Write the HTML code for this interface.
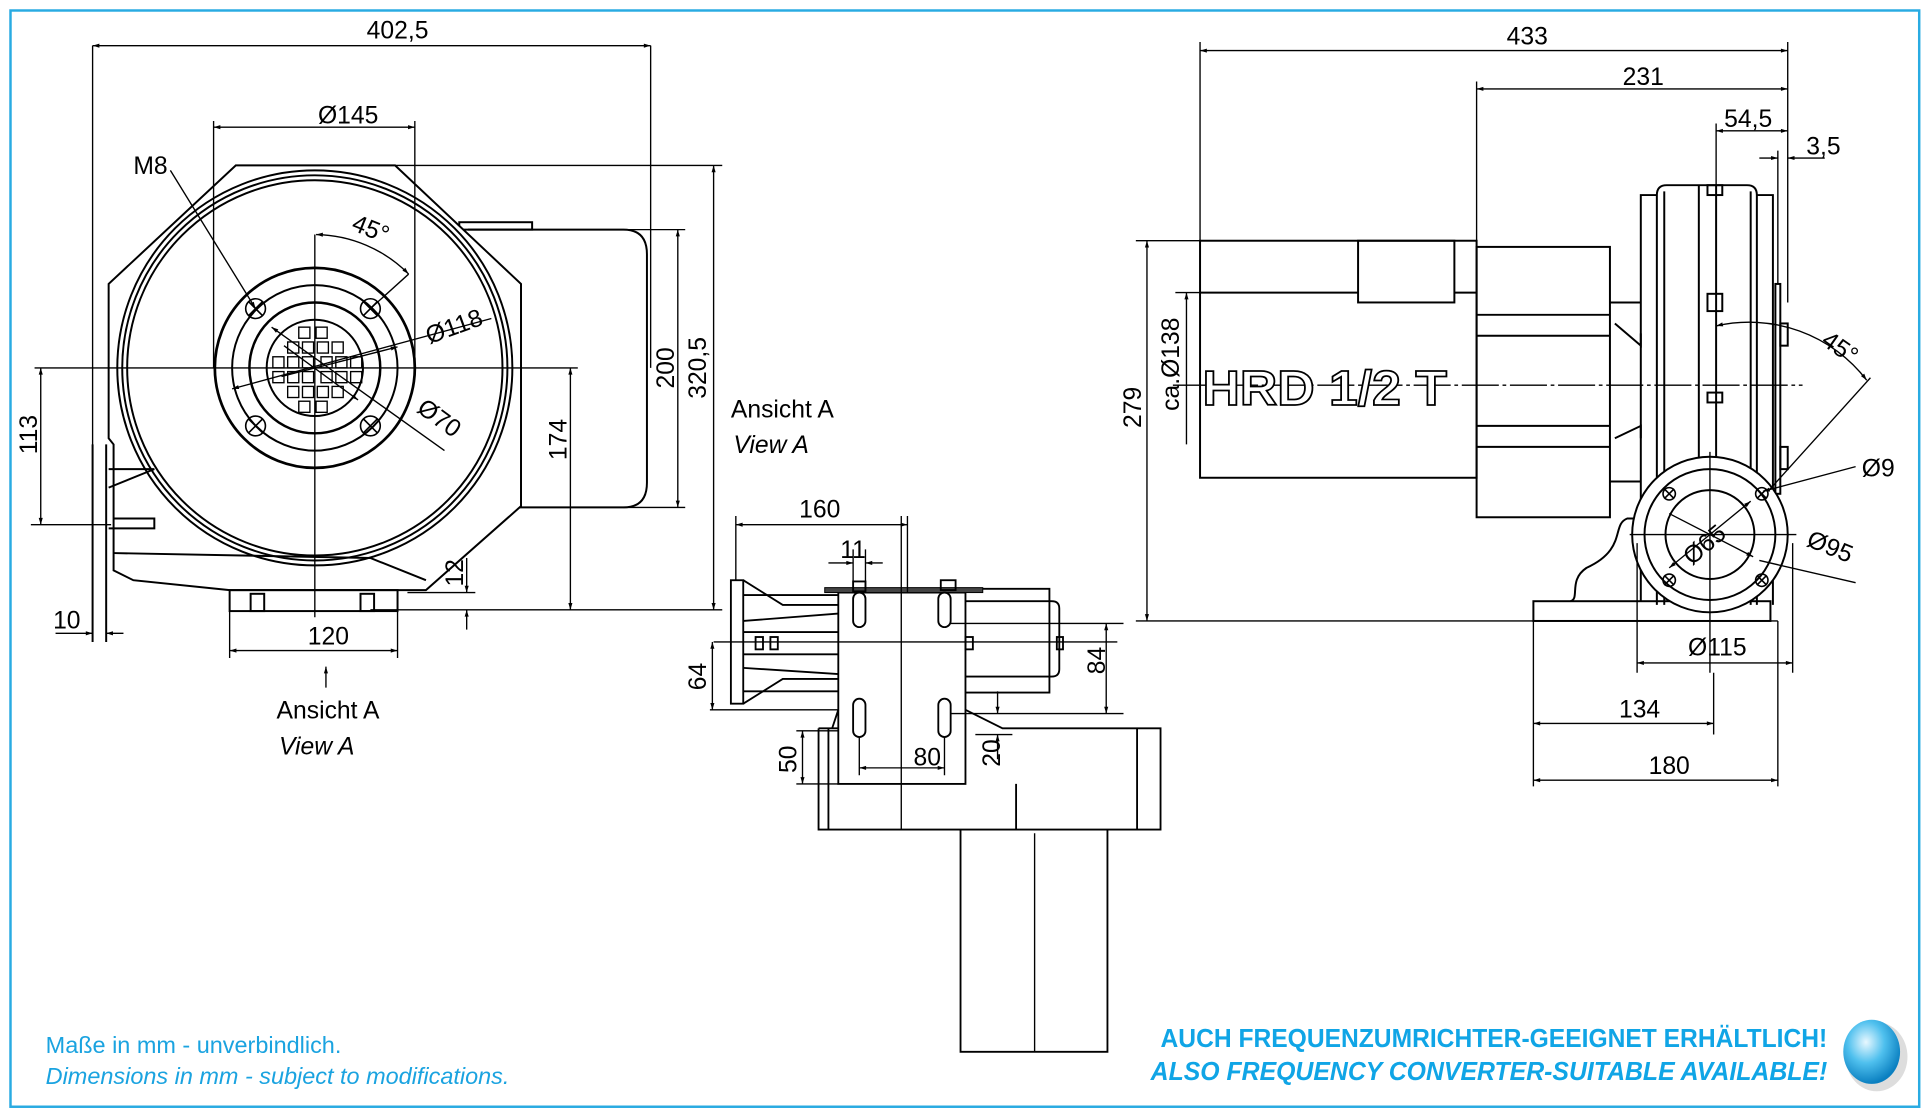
<!DOCTYPE html>
<html><head><meta charset="utf-8"><style>
html,body{margin:0;padding:0;background:#fff}
svg{display:block}
text{font-family:"Liberation Sans",Arial,sans-serif;fill:#000}
</style></head><body>
<svg width="1926" height="1116" viewBox="0 0 1560 904" preserveAspectRatio="none" xmlns="http://www.w3.org/2000/svg">
<defs>
<marker id="a" viewBox="0 0 10 10" refX="10" refY="5" markerWidth="7" markerHeight="5" orient="auto-start-reverse"><path d="M0,2 L10,5 L0,8z" fill="#000"/></marker>
<radialGradient id="g" cx="40%" cy="35%" r="65%"><stop offset="0" stop-color="#e8f8ff"/><stop offset="0.5" stop-color="#4fc0ee"/><stop offset="1" stop-color="#0a7fc0"/></radialGradient>
</defs>
<rect x="8.5" y="8.5" width="1546" height="888" fill="none" stroke="#29abe2" stroke-width="2"/>
<g fill="none" stroke="#000" stroke-width="1.6">
<!-- LEFT VIEW -->
<path d="M379,186 L505,186 Q524,186 524,206 L524,391 Q524,411 505,411 L379,411" fill="#fff"/>
<rect x="372" y="180" width="59" height="6"/>
<path d="M191,134 L320,134 L422,230 L422,410 L345,478 L186,478 L108,470 L92,462 L92,360 L88,355 L88,230 Z" fill="#fff"/>
<circle cx="255" cy="298" r="160"/>
<circle cx="255" cy="298" r="156"/>
<circle cx="255" cy="298" r="152"/>
<circle cx="255" cy="298" r="81" stroke-width="2.2"/>
<circle cx="255" cy="298" r="67"/>
<circle cx="255" cy="298" r="53" stroke-width="2"/>
<circle cx="255" cy="298" r="39"/>
<g stroke-width="1.3">
<circle cx="207" cy="250" r="8"/><path d="M201,244l12,12M213,244l-12,12"/>
<circle cx="300" cy="250" r="8"/><path d="M294,244l12,12M306,244l-12,12"/>
<circle cx="207" cy="345" r="8"/><path d="M201,339l12,12M213,339l-12,12"/>
<circle cx="300" cy="345" r="8"/><path d="M294,339l12,12M306,339l-12,12"/>
</g>
<g stroke-width="1.1">
<rect x="242" y="265" width="9" height="9"/><rect x="256" y="265" width="9" height="9"/>
<rect x="233" y="277" width="9" height="9"/><rect x="245" y="277" width="9" height="9"/><rect x="257" y="277" width="9" height="9"/><rect x="269" y="277" width="9" height="9"/>
<rect x="221" y="289" width="9" height="9"/><rect x="233" y="289" width="9" height="9"/><rect x="245" y="289" width="9" height="9"/><rect x="260" y="289" width="9" height="9"/><rect x="272" y="289" width="9" height="9"/><rect x="284" y="289" width="9" height="9"/>
<rect x="221" y="301" width="9" height="9"/><rect x="233" y="301" width="9" height="9"/><rect x="245" y="301" width="9" height="9"/><rect x="260" y="301" width="9" height="9"/><rect x="272" y="301" width="9" height="9"/><rect x="284" y="301" width="9" height="9"/>
<rect x="233" y="313" width="9" height="9"/><rect x="245" y="313" width="9" height="9"/><rect x="257" y="313" width="9" height="9"/><rect x="269" y="313" width="9" height="9"/>
<rect x="242" y="325" width="9" height="9"/><rect x="256" y="325" width="9" height="9"/>
</g>
<path d="M92,420 L125,420 L125,428 L88,428"/>
<path d="M88,380 L125,380 L88,395 M92,448 L300,452 L345,470"/>
<rect x="186" y="478" width="136" height="17"/>
<rect x="203" y="481" width="11" height="14"/><rect x="292" y="481" width="11" height="14"/>
<path d="M75,360 L75,520 M86,360 L86,520"/>
</g>
<g stroke="#000" stroke-width="1.1" fill="none">
<path d="M255,190 L255,500 M28,298 L468,298"/>
<path d="M75,37 L75,515 M527,37 L527,298"/>
<path d="M75,37 L527,37" marker-start="url(#a)" marker-end="url(#a)"/>
<path d="M173,98 L173,298 M336,98 L336,298"/>
<path d="M173,103 L336,103" marker-start="url(#a)" marker-end="url(#a)"/>
<path d="M320,134 L585,134 M505,186 L555,186 M505,411 L555,411 M300,494 L585,494"/>
<path d="M578,134 L578,494" marker-start="url(#a)" marker-end="url(#a)"/>
<path d="M549,186 L549,411" marker-start="url(#a)" marker-end="url(#a)"/>
<path d="M462,298 L462,494" marker-start="url(#a)" marker-end="url(#a)"/>
<path d="M25,425 L90,425"/>
<path d="M33,298 L33,425" marker-start="url(#a)" marker-end="url(#a)"/>
<path d="M330,480 L385,480"/>
<path d="M378,452 L378,480" marker-end="url(#a)"/><path d="M378,510 L378,494" marker-end="url(#a)"/>
<path d="M186,495 L186,533 M322,495 L322,533"/>
<path d="M186,527 L322,527" marker-start="url(#a)" marker-end="url(#a)"/>
<path d="M45,513 L75,513" marker-end="url(#a)"/><path d="M100,513 L86,513" marker-end="url(#a)"/>
<path d="M138,138 L207,250" marker-end="url(#a)"/>
<path d="M256,190 A108,108 0 0 1 331,222" marker-start="url(#a)" marker-end="url(#a)"/>
<path d="M331,222 L300,250"/>
<path d="M398,258 L188,315" marker-end="url(#a)"/><path d="M228,305 L322,281" marker-end="url(#a)"/>
<path d="M360,365 L220,265" marker-end="url(#a)"/><path d="M230,280 L290,324" marker-end="url(#a)"/>
<path d="M264,557 L264,540" marker-end="url(#a)"/>
</g>
<g font-size="20">
<text x="322" y="31" text-anchor="middle">402,5</text>
<text x="282" y="100" text-anchor="middle">Ø145</text>
<text x="108" y="141">M8</text>
<text x="285" y="192" transform="rotate(22 300 186)">45°</text>
<text x="342" y="270" transform="rotate(-20 370 258)">Ø118</text>
<text x="333" y="346" transform="rotate(36 355 345)">Ø70</text>
<text transform="translate(546,298) rotate(-90)" text-anchor="middle">200</text>
<text transform="translate(572,298) rotate(-90)" text-anchor="middle">320,5</text>
<text transform="translate(459,356) rotate(-90)" text-anchor="middle">174</text>
<text transform="translate(30,352) rotate(-90)" text-anchor="middle">113</text>
<text transform="translate(375,464) rotate(-90)" text-anchor="middle">12</text>
<text x="43" y="509">10</text>
<text x="266" y="522" text-anchor="middle">120</text>
<text x="224" y="582">Ansicht A</text>
<text x="226" y="611" font-style="italic">View A</text>
<text x="592" y="338">Ansicht A</text>
<text x="594" y="367" font-style="italic">View A</text>
</g>
<!-- MIDDLE VIEW -->
<g fill="none" stroke="#000" stroke-width="1.5">
<rect x="592" y="470" width="10" height="100"/>
<path d="M602,470 L634,490 L679,490 M602,570 L634,550 L679,550"/>
<path d="M602,482 L679,482 M602,560 L679,560 M602,503 L679,497 M602,541 L679,546 M602,512 L679,512 M602,530 L679,530"/>
<path d="M782,477 L850,477 L850,561 L782,561"/>
<path d="M782,487 L852,487 Q858,487 858,493 L858,542 Q858,548 852,548 L782,548"/>
<rect x="679" y="480" width="103" height="155" fill="#fff"/>
<rect x="668" y="476" width="128" height="4" fill="#444" stroke-width="0.8"/>
<rect x="691" y="471" width="10" height="8"/><rect x="762" y="470" width="12" height="8"/>
<rect x="691" y="480" width="10" height="28" rx="5"/><rect x="760" y="480" width="10" height="28" rx="5"/>
<rect x="691" y="566" width="10" height="31" rx="5"/><rect x="760" y="566" width="10" height="31" rx="5"/>
<rect x="612" y="516" width="6" height="10"/><rect x="624" y="516" width="6" height="10"/>
<rect x="782" y="516" width="6" height="10"/><rect x="856" y="516" width="5" height="10"/>
<path d="M663,590 L663,672 L940,672 L940,590 L812,590 L782,575 M663,590 L679,590 M671,590 L671,672 M921,590 L921,672 M823,635 L823,672 M674,590 L679,575"/>
<path d="M778,672 L778,852 L897,852 L897,672"/>
</g>
<g stroke="#000" stroke-width="1.1" fill="none">
<path d="M730,418 L730,672 M838,675 L838,852 M578,520 L905,520"/>
<path d="M596,418 L596,470 M735,418 L735,480"/>
<path d="M596,425 L735,425" marker-start="url(#a)" marker-end="url(#a)"/>
<path d="M671,456 L691,456" marker-end="url(#a)"/><path d="M715,456 L701,456" marker-end="url(#a)"/>
<path d="M691,445 L691,480 M701,445 L701,480"/>
<path d="M575,575 L679,575 M770,505 L910,505 M770,578 L910,578"/>
<path d="M577,520 L577,575" marker-start="url(#a)" marker-end="url(#a)"/>
<path d="M896,505 L896,578" marker-start="url(#a)" marker-end="url(#a)"/>
<path d="M645,592 L679,592 M645,635 L679,635"/>
<path d="M650,592 L650,635" marker-start="url(#a)" marker-end="url(#a)"/>
<path d="M696,597 L696,628 M765,597 L765,628"/>
<path d="M696,622 L765,622" marker-start="url(#a)" marker-end="url(#a)"/>
<path d="M790,595 L820,595"/>
<path d="M808,560 L808,578" marker-end="url(#a)"/><path d="M808,615 L808,595" marker-end="url(#a)"/>
</g>
<g font-size="20">
<text x="664" y="419" text-anchor="middle">160</text>
<text x="691" y="452" text-anchor="middle">11</text>
<text transform="translate(572,548) rotate(-90)" text-anchor="middle">64</text>
<text transform="translate(895,535) rotate(-90)" text-anchor="middle">84</text>
<text transform="translate(645,615) rotate(-90)" text-anchor="middle">50</text>
<text x="751" y="620" text-anchor="middle">80</text>
<text transform="translate(810,610) rotate(-90)" text-anchor="middle">20</text>
</g>
<!-- RIGHT VIEW -->
<g fill="none" stroke="#000" stroke-width="1.6">
<rect x="972" y="195" width="224" height="192"/>
<rect x="1100" y="195" width="78" height="50"/>
<path d="M972,237 L1100,237 M1178,237 L1196,237"/>
<rect x="1196" y="200" width="108" height="219"/>
<path d="M1196,255 L1304,255 M1196,272 L1304,272 M1196,345 L1304,345 M1196,362 L1304,362"/>
<path d="M1304,245 L1329,245 M1304,390 L1329,390 M1308,262 L1329,280 L1329,270 M1308,355 L1329,345 L1329,355"/>
<path d="M1329,408 L1329,158 L1342,158 M1423,158 L1436,158 L1436,490"/>
<path d="M1342,490 L1342,158 Q1342,150 1350,150 L1415,150 Q1423,150 1423,158 L1423,490"/>
<path d="M1348,155 L1348,490 M1418,155 L1418,490"/>
<path d="M1376,150 L1376,490 M1390,150 L1390,490"/>
<rect x="1383" y="150" width="12" height="8"/>
<rect x="1383" y="238" width="12" height="14"/><rect x="1383" y="318" width="12" height="8"/>
<rect x="1438" y="230" width="4" height="170"/>
<rect x="1442" y="262" width="6" height="18"/><rect x="1442" y="362" width="6" height="18"/>
<path d="M1329,408 L1342,408 M1329,408 L1329,487 M1329,420 L1318,420 C1305,425 1318,445 1285,460 C1270,470 1280,485 1272,487"/>
<rect x="1242" y="487" width="192" height="16" fill="none"/>
<circle cx="1385" cy="433" r="63" fill="#fff"/>
<circle cx="1385" cy="433" r="53"/>
<circle cx="1385" cy="433" r="36"/>
<g stroke-width="1.3">
<circle cx="1352" cy="400" r="5"/><path d="M1348,396l8,8M1356,396l-8,8"/>
<circle cx="1427" cy="400" r="5"/><path d="M1423,396l8,8M1431,396l-8,8"/>
<circle cx="1352" cy="470" r="5"/><path d="M1348,466l8,8M1356,466l-8,8"/>
<circle cx="1427" cy="470" r="5"/><path d="M1423,466l8,8M1431,466l-8,8"/>
</g>
</g>
<g stroke="#000" stroke-width="1.1" fill="none">
<path d="M950,312 L1460,312" stroke-dasharray="30 3 3 3"/>
<path d="M1320,433 L1455,433 M1385,366 L1385,545"/>
<path d="M972,34 L972,195 M1448,34 L1448,245 M1196,66 L1196,200 M1390,100 L1390,150 M1440,122 L1440,230"/>
<path d="M972,41 L1448,41" marker-start="url(#a)" marker-end="url(#a)"/>
<path d="M1196,72 L1448,72" marker-start="url(#a)" marker-end="url(#a)"/>
<path d="M1390,106 L1448,106" marker-start="url(#a)" marker-end="url(#a)"/>
<path d="M1425,128 L1440,128" marker-end="url(#a)"/><path d="M1478,128 L1448,128" marker-end="url(#a)"/>
<path d="M920,195 L972,195 M920,503 L1440,503 M952,237 L972,237"/>
<path d="M929,195 L929,503" marker-start="url(#a)" marker-end="url(#a)"/>
<path d="M961,237 L961,360" marker-start="url(#a)"/>
<path d="M1326,440 L1326,545 M1452,440 L1452,545 M1242,503 L1242,637 M1440,503 L1440,637 M1388,545 L1388,595"/>
<path d="M1326,537 L1452,537" marker-start="url(#a)" marker-end="url(#a)"/>
<path d="M1242,586 L1388,586" marker-start="url(#a)" marker-end="url(#a)"/>
<path d="M1242,632 L1440,632" marker-start="url(#a)" marker-end="url(#a)"/>
<path d="M1390,264 A120,120 0 0 1 1512,308" marker-start="url(#a)" marker-end="url(#a)"/>
<path d="M1515,306 L1432,398"/>
<path d="M1503,378 L1428,398" marker-end="url(#a)"/>
<path d="M1352,416 L1420,451" marker-end="url(#a)"/><path d="M1425,454 L1503,472"/>
<path d="M1352,460 L1418,406" marker-start="url(#a)" marker-end="url(#a)"/>
</g>
<g font-size="20">
<text x="1237" y="36" text-anchor="middle">433</text>
<text x="1331" y="69" text-anchor="middle">231</text>
<text x="1416" y="103" text-anchor="middle">54,5</text>
<text x="1463" y="125">3,5</text>
<text transform="translate(924,330) rotate(-90)" text-anchor="middle">279</text>
<text transform="translate(955,295) rotate(-90)" text-anchor="middle">ca.Ø138</text>
<text x="974" y="328" font-size="40" font-weight="bold" textLength="198" lengthAdjust="spacingAndGlyphs" stroke="#000" stroke-width="1.4" style="fill:#fff">HRD 1/2 T</text>
<text x="1475" y="288" transform="rotate(35 1490 282)">45°</text>
<text x="1508" y="386">Ø9</text>
<text x="1460" y="450" transform="rotate(22 1482 452)">Ø95</text>
<text x="1360" y="444" transform="rotate(-40 1385 437)">Ø65</text>
<text x="1391" y="531" text-anchor="middle">Ø115</text>
<text x="1328" y="581" text-anchor="middle">134</text>
<text x="1352" y="627" text-anchor="middle">180</text>
</g>
<text x="37" y="853" font-size="19" style="fill:#1aa3e0">Maße in mm - unverbindlich.</text>
<text x="37" y="878" font-size="19" font-style="italic" style="fill:#1aa3e0">Dimensions in mm - subject to modifications.</text>
<text x="940" y="848" font-size="21" font-weight="bold" textLength="540" lengthAdjust="spacingAndGlyphs" style="fill:#10a5e6;font-family:'Liberation Sans Narrow','Liberation Sans',sans-serif">AUCH FREQUENZUMRICHTER-GEEIGNET ERHÄLTLICH!</text>
<text x="932" y="875" font-size="21" font-weight="bold" textLength="548" lengthAdjust="spacingAndGlyphs" font-style="italic" style="fill:#10a5e6;font-family:'Liberation Sans Narrow','Liberation Sans',sans-serif">ALSO FREQUENCY CONVERTER-SUITABLE AVAILABLE!</text>
<ellipse cx="1520" cy="856" rx="25" ry="28" fill="#bbb" opacity="0.5"/>
<ellipse cx="1516" cy="852" rx="23" ry="26" fill="url(#g)"/>
</svg>
</body></html>
